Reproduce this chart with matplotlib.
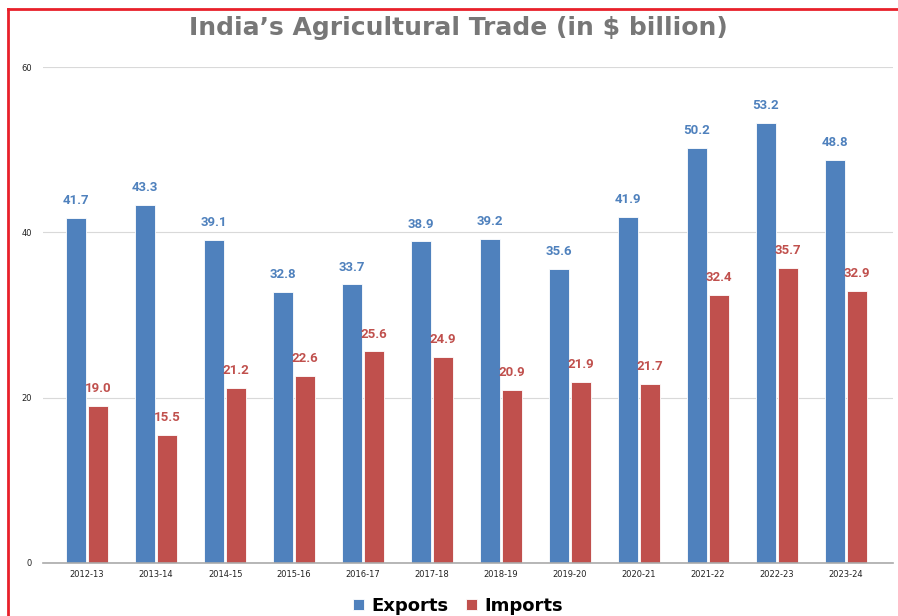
import matplotlib.pyplot as plt
import numpy as np
from matplotlib.lines import Line2D

years = ["2012-13", "2013-14", "2014-15", "2015-16", "2016-17", "2017-18",
         "2018-19", "2019-20", "2020-21", "2021-22", "2022-23", "2023-24"]
exports = [41.7, 43.3, 39.1, 32.8, 33.7, 38.9, 39.2, 35.6, 41.9, 50.2, 53.2, 48.8]
imports = [19.0, 15.5, 21.2, 22.6, 25.6, 24.9, 20.9, 21.9, 21.7, 32.4, 35.7, 32.9]

blue = "#4F81BD"
red = "#C0504D"

fig = plt.figure(figsize=(8.98, 6.16), dpi=100)
ax = fig.add_axes([43 / 898, 1 - 563 / 616, 850 / 898, (563 - 67) / 616])

x = np.arange(len(years))
w = 0.29
gap = 0.015
b1 = ax.bar(x - w / 2 - gap, exports, w, color=blue, edgecolor="white", linewidth=0.6, zorder=3)
b2 = ax.bar(x + w / 2 + gap, imports, w, color=red, edgecolor="white", linewidth=0.6, zorder=3)

for rect, v in zip(b1, exports):
    ax.text(rect.get_x() + rect.get_width() / 2, v + 2.1, f"{v:.1f}",
            ha="center", va="center", color=blue, fontsize=9.5,
            family="Roboto", weight="bold")
for rect, v in zip(b2, imports):
    ax.text(rect.get_x() + rect.get_width() / 2, v + 2.1, f"{v:.1f}",
            ha="center", va="center", color=red, fontsize=9.5,
            family="Roboto", weight="bold")

ax.set_xlim(-0.64, 11.68)
ax.set_ylim(0, 60)
ax.set_yticks([0, 20, 40, 60])
ax.set_xticks(x)
ax.set_xticklabels(years, fontsize=6, color="#222222")
ax.tick_params(axis="y", labelsize=6, colors="#222222", length=0, pad=8)
ax.tick_params(axis="x", length=0, pad=5)
ax.grid(axis="y", color="#d9d9d9", linewidth=0.8, zorder=0)
for s in ["top", "right", "left"]:
    ax.spines[s].set_visible(False)
ax.spines["bottom"].set_color("#aaaaaa")
ax.spines["bottom"].set_linewidth(1.2)
ax.spines["bottom"].set_zorder(4)

fig.text(458 / 898, 1 - 28 / 616, "India\u2019s Agricultural Trade (in $ billion)",
         ha="center", va="center", fontsize=18, weight="heavy",
         family="DejaVu Sans", color="#777777")

leg = fig.legend([b1, b2], ["Exports", "Imports"], loc="center",
                 bbox_to_anchor=(458 / 898, 1 - 606 / 616), ncol=2, frameon=False,
                 handlelength=0.6, handleheight=0.6, handletextpad=0.4,
                 columnspacing=1.0, prop={"family": "DejaVu Sans",
                                          "weight": "heavy", "size": 13})

# red frame along the top and left edges
fig.add_artist(Line2D([8 / 898, 1.0], [1 - 9 / 616, 1 - 9 / 616],
                      transform=fig.transFigure, color="#E8202A", linewidth=2))
fig.add_artist(Line2D([8 / 898, 8 / 898], [0, 1 - 9 / 616],
                      transform=fig.transFigure, color="#E8202A", linewidth=2))

fig.savefig("out.png", dpi=100)
